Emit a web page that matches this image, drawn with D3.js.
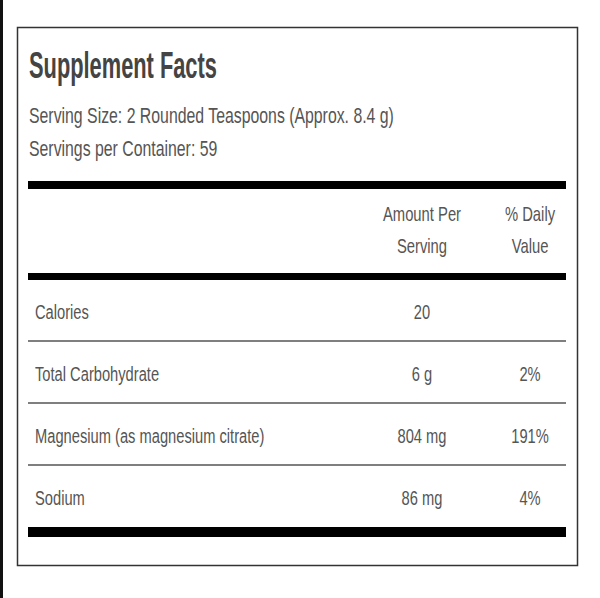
<!DOCTYPE html>
<html><head><meta charset="utf-8">
<script src="https://cdn.jsdelivr.net/npm/d3@7"></script>
<style>body{margin:0;background:#fff}text{font-family:"Liberation Sans",Arial,sans-serif}</style>
</head><body><div id="chart"></div>
<script>
// label data
const title = "Supplement Facts";
const servingLines = ["Serving Size: 2 Rounded Teaspoons (Approx. 8.4 g)", "Servings per Container: 59"];
const headers = [["Amount Per", "Serving"], ["% Daily", "Value"]];
const nutrients = ["Calories", "Total Carbohydrate", "Magnesium (as magnesium citrate)", "Sodium"];
const amounts = ["20", "6 g", "804 mg", "86 mg"];
const dailyValues = ["", "2%", "191%", "4%"];

const W = 600, H = 598;
const svg = d3.select("#chart").append("svg").attr("width", W).attr("height", H);

// left edge bar and the box
svg.append("rect").attr("x", 0).attr("y", 0).attr("width", 3).attr("height", H).attr("fill", "#111");
svg.append("rect").attr("x", 17.5).attr("y", 27.5).attr("width", 560).attr("height", 538)
    .attr("fill", "none").attr("stroke", "#333").attr("stroke-width", 1.5);

// condensed text helper
function txt(x, y, s, size, sx, weight, anchor) {
    svg.append("text")
        .attr("transform", `translate(${x},${y}) scale(${sx},1)`)
        .attr("text-anchor", anchor || "start")
        .attr("font-size", size).attr("font-weight", weight || "normal")
        .attr("fill", weight ? "#444" : "#555")
        .text(s);
}

txt(29, 78, title, 37, 0.59, "bold");
servingLines.forEach((s, i) => txt(29, 123 + i * 33, s, 22, 0.72));

const thick = [[181, 8], [273, 7], [527, 10]];
thick.forEach(([y, h]) => svg.append("rect").attr("x", 28).attr("y", y).attr("width", 538).attr("height", h).attr("fill", "#000"));

const cols = [422, 530];
headers.forEach((h, i) => h.forEach((s, j) => txt(cols[i], 221 + j * 32, s, 20, 0.74, null, "middle")));

// rows
const y = d3.scaleBand().domain(nutrients).range([279, 527]);
nutrients.forEach((n, i) => {
    const cy = y(n) + y.bandwidth() / 2 + 2;
    txt(35, cy + 7, n, 21, 0.7);
    txt(cols[0], cy + 7, amounts[i], 21, 0.7, null, "middle");
    txt(cols[1], cy + 7, dailyValues[i], 21, 0.7, null, "middle");
    if (i > 0) svg.append("line").attr("x1", 28).attr("x2", 566).attr("y1", y(n)).attr("y2", y(n))
        .attr("stroke", "#555").attr("stroke-width", 1.5);
});
</script></body></html>
